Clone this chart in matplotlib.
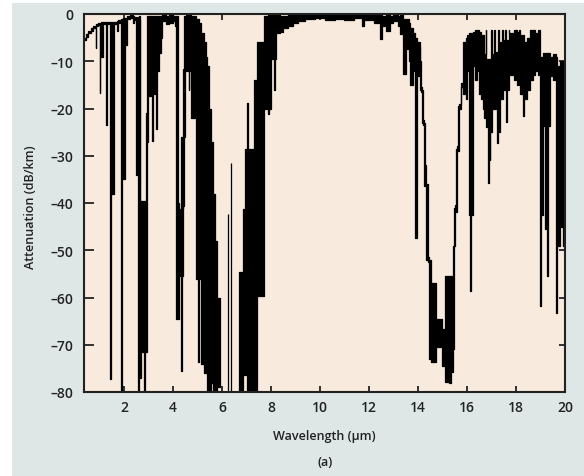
import numpy as np
import matplotlib
matplotlib.use("Agg")
import matplotlib.pyplot as plt
from matplotlib.patches import Rectangle

N = None  # gap (no trace)

# Spectrum read column by column: start wavelength, upper and lower edge of the trace
wavelength_um = [
    0.37, 0.45, 0.55, 0.65, 0.75, 0.84, 0.87, 0.95, 1.01, 1.04, 1.07, 1.16, 1.27, 1.30,
    1.44, 1.47, 1.49, 1.60, 1.73, 1.77, 1.89, 1.92, 1.96, 2.06, 2.13, 2.25, 2.35, 2.42,
    2.50, 2.54, 2.57, 2.60, 2.64, 2.70, 2.80, 2.84, 2.91, 2.95, 2.99, 3.13, 3.17, 3.25,
    3.31, 3.35, 3.42, 3.50, 3.56, 3.70, 3.85, 4.00, 4.08,
    4.14, 4.19, 4.24, 4.33, 4.37, 4.40, 4.45, 4.49, 4.55, 4.64, 4.67, 4.73, 4.94, 5.03,
    5.06, 5.13, 5.25, 5.35, 5.41, 5.48, 5.56, 5.62, 5.70, 5.80, 5.90,
    5.97, 6.23, 6.27, 6.35, 6.39, 6.70, 6.84, 6.94, 6.97, 7.02, 7.05, 7.32, 7.45, 7.72,
    7.88, 7.92, 8.00, 8.12, 8.15, 8.22, 8.35, 8.50, 8.70, 8.90, 9.10, 9.40, 9.80, 10.2,
    10.6, 11.0, 11.4, 11.7, 11.8, 12.2, 12.45, 12.55, 12.7, 12.85, 13.0, 13.2,
    13.26, 13.39, 13.53, 13.62, 13.66, 13.80, 13.87, 13.94, 14.04, 14.07, 14.12, 14.15,
    14.22, 14.25, 14.30, 14.33, 14.42, 14.45, 14.55, 14.72, 15.00, 15.10, 15.25, 15.28,
    15.33, 15.42, 15.45, 15.48, 15.51, 15.55, 15.58, 15.64, 15.67, 15.74, 15.77,
    15.84, 15.96, 16.02, 16.08, 16.14, 16.17, 16.24, 16.32, 16.40, 16.48, 16.58, 16.64,
    16.68, 16.76, 16.79, 16.85, 16.88, 16.92, 16.95, 16.99, 17.02, 17.12, 17.15, 17.22,
    17.25, 17.28, 17.31, 17.35, 17.43, 17.46, 17.56, 17.59, 17.63, 17.70, 17.73, 17.90,
    18.05, 18.12, 18.18, 18.28, 18.32, 18.45, 18.58, 18.70, 18.78, 18.88, 18.97, 19.00,
    19.04, 19.10, 19.20, 19.26, 19.31, 19.40, 19.52, 19.64, 19.68, 19.80, 19.90, 20.0,
]
upper_db = [
    -5.0, -4.3, -3.6, -3.0, -2.5, -2.2, -2.1, -1.9, -1.8, -1.8, -1.7, -1.7, -1.7, -1.7,
    -1.7, -1.7, -1.7, -1.6, -1.4, -1.2, -1.0, -1.0, -0.9, -0.8, -0.5, -0.3, -0.5, -0.6,
    -0.8, -0.6, -34.0, -0.5, -58.0, -39.5, -39.5, -39.5, -21.0, -0.5, -0.5, -0.5, -0.5, -0.5,
    -0.5, -0.5, -0.5, -0.5, -0.3, -0.5, -0.3, -0.5, -0.5,
    -0.5, -40.0, -41.3, -26.0, -41.3, -11.7, -0.5, -0.5, -0.2, -0.2, -0.2, -0.5, -1.0, -1.0,
    -2.0, -4.0, -6.0, -9.0, -11.0, -20.0, -27.0, -38.0, -48.0, -60.0, -66.0,
    N, -42.4, N, -31.5, N, -54.7, -41.3, -28.6, -41.3, -18.8, -28.6, -13.9, -6.0, -0.5,
    -0.3, -0.3, -0.3, -0.3, -0.3, -0.3, -0.5, -0.5, -0.3, -0.3, -0.3, -0.2, -0.2, -0.3,
    -0.2, -0.3, -0.2, -0.2, -0.3, -0.3, -0.3, -0.5, -0.3, -0.5, -0.3, -0.5,
    -0.3, -1.0, -1.0, -2.0, -3.0, -4.0, -5.0, -6.0, -6.0, -10.0, -15.5, -16.0,
    -22.5, -23.0, -32.0, -36.0, -51.5, -52.0, -57.0, -64.5, -66.6, -55.4, -55.4, -55.4,
    -55.4, -49.0, -48.0, -41.0, -40.5, -28.6, -28.0, -19.4, -19.0, -15.0, -14.5,
    -6.0, -5.0, -4.5, -4.0, -4.0, -4.0, -3.8, -3.4, -3.4, -3.9, -4.5, -4.5,
    -8.5, -3.3, -9.5, -9.5, -9.5, -9.5, -9.5, -3.3, -8.5, -3.3, -8.0, -8.0,
    -8.0, -3.3, -7.0, -6.0, -3.3, -5.5, -3.3, -5.5, -5.5, -3.3, -4.0, -3.3,
    -3.8, -3.3, -4.5, -4.5, -6.0, -5.0, -3.3, -3.3, -4.0, -3.3, -9.0, -9.0,
    -9.0, -8.2, -8.2, -8.2, -8.2, -9.0, -8.5, -9.0, -11.0, -10.0, -11.0, -11.0,
]
lower_db = [
    -5.5, -4.8, -4.1, -3.5, -3.0, -7.2, -2.6, -2.4, -16.7, -2.3, -9.0, -2.2, -23.4, -2.2,
    -77.3, -2.2, -38.0, -2.1, -3.5, -1.8, -80.0, -1.6, -35.0, -6.5, -1.1, -0.9, -2.0, -1.3,
    -34.0, -1.2, -80.0, -1.1, -77.0, -71.6, -80.0, -71.6, -71.6, -27.0, -17.4, -26.9, -17.0, -15.0,
    -24.4, -12.0, -8.2, -5.0, -1.5, -2.2, -1.8, -1.5, -2.5,
    -64.6, -64.5, -55.4, -75.5, -55.4, -40.6, -26.0, -1.3, -12.0, -16.0, -12.0, -22.0, -56.0, -73.7,
    -56.0, -74.0, -76.0, -72.0, -80.0, -80.0, -78.0, -80.0, -80.0, -79.0, -78.0,
    N, -80.0, N, -80.0, N, -80.0, -76.5, -76.5, -76.5, -80.0, -80.0, -80.0, -59.7, -20.2,
    -21.2, -20.0, -9.6, -16.0, -9.6, -4.0, -3.8, -3.0, -2.5, -2.0, -1.5, -1.0, -0.9, -1.3,
    -1.0, -1.2, -0.9, -2.5, -1.2, -1.8, -5.3, -2.5, -3.5, -2.0, -1.4, -2.5,
    -4.2, -12.7, -7.5, -10.0, -15.0, -12.0, -47.5, -13.1, -7.0, -16.0, -16.5, -23.0,
    -23.5, -36.4, -36.5, -52.0, -52.5, -73.0, -73.7, -70.4, -74.4, -77.9, -75.8, -78.0,
    -75.8, -71.0, -49.5, -49.0, -41.5, -42.0, -29.0, -29.0, -20.0, -20.0, -15.5,
    -17.0, -18.0, -12.0, -42.6, -58.7, -42.6, -11.0, -14.0, -12.0, -17.0, -18.0, -20.0,
    -22.0, -22.0, -24.0, -35.7, -24.0, -30.8, -25.0, -25.0, -20.0, -20.0, -20.0, -27.2,
    -20.0, -20.0, -25.0, -18.0, -18.0, -16.0, -16.0, -22.8, -16.0, -16.0, -13.0, -14.0,
    -15.0, -13.0, -17.0, -21.6, -18.0, -16.0, -14.0, -13.0, -12.0, -13.0, -42.6, -61.8,
    -42.6, -23.8, -45.6, -55.4, -23.8, -13.1, -14.0, -63.2, -49.1, -45.0, -49.0, -49.0,
]

x_ticks = [2, 4, 6, 8, 10, 12, 14, 16, 18, 20]
y_ticks = [0, -10, -20, -30, -40, -50, -60, -70, -80]

plt.rcParams["font.family"] = ["Open Sans", "DejaVu Sans"]

W, H = 584, 477
fig = plt.figure(figsize=(W / 100, H / 100), dpi=100, facecolor="white")
fig.patches.append(Rectangle((12 / W, 0), 1, 1 - 4 / H, transform=fig.transFigure,
                             facecolor="#dfe6e6", edgecolor="none", zorder=-10))

ax = fig.add_axes([84 / W, 1 - 393 / H, (565 - 84) / W, (393 - 15) / H])
ax.set_facecolor("#f8eadc")

x = np.array(wavelength_um, dtype=float)
yu = np.array([np.nan if v is None else v for v in upper_db], dtype=float)
yl = np.array([np.nan if v is None else v for v in lower_db], dtype=float)
ax.fill_between(x, yu, yl, step="post", facecolor="black", edgecolor="black",
                linewidth=0.9, zorder=2)

ax.set_xlim(0.37, 20)
ax.set_ylim(-80, 0)
ax.set_xticks(x_ticks)
ax.set_yticks(y_ticks)
ax.set_yticklabels(["0"] + ["\u2013" + str(-v) for v in y_ticks[1:]])
ax.tick_params(axis="both", direction="in", width=1.3, color="#222222",
               labelsize=10, labelcolor="#222222")
ax.tick_params(axis="y", which="major", left=True, right=True, length=4.3, pad=8)
ax.tick_params(axis="x", which="major", top=True, bottom=True, length=4.3, pad=6)
for lab in ax.get_xticklabels() + ax.get_yticklabels():
    lab.set_fontweight("semibold")
for t in ax.yaxis.get_major_ticks():
    t.tick1line.set_markersize(7.5)
for s in ax.spines.values():
    s.set_linewidth(1.5)
    s.set_color("#222222")
    s.set_zorder(3)

fig.text(30 / W, 1 - 207 / H, "Attenuation (dB/km)", rotation=90, ha="center",
         va="center", fontsize=9, fontweight="semibold", color="#222222")
fig.text(324.5 / W, 1 - 437 / H, "Wavelength (\u00b5m)", ha="center", va="center",
         fontsize=9, fontweight="semibold", color="#222222")
fig.text(325 / W, 1 - 463 / H, "(a)", ha="center", va="center", fontsize=9,
         fontweight="semibold", color="#222222")

fig.savefig("out.png", dpi=100, facecolor=fig.get_facecolor())
